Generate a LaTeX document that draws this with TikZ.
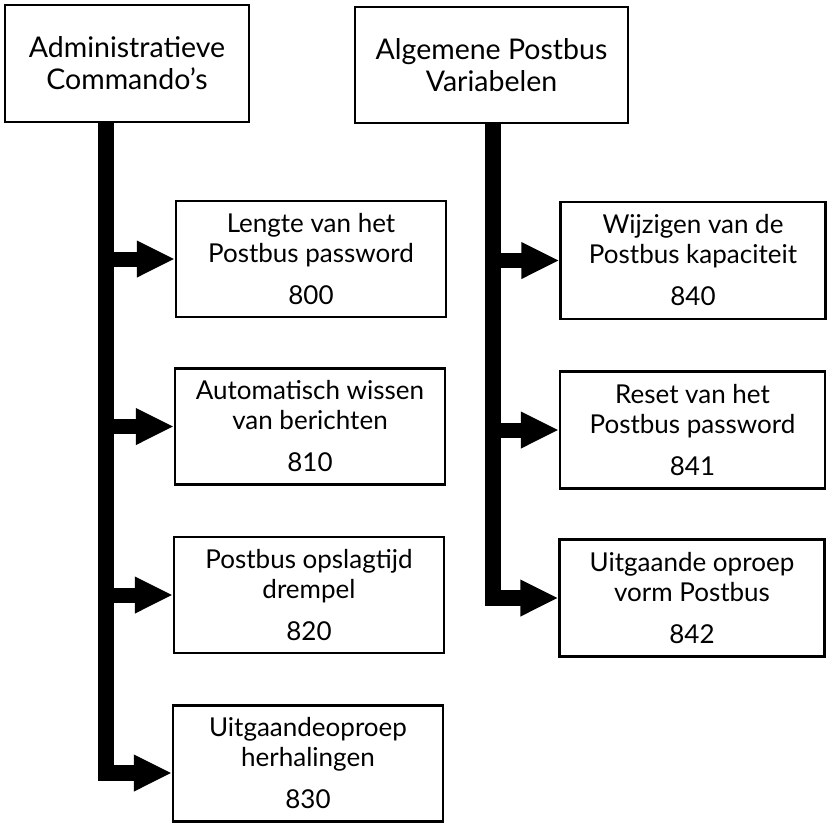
\documentclass[tikz,border=0pt]{standalone}
\usepackage{fontspec}
\setmainfont{Lato}
\usetikzlibrary{arrows.meta,calc}
\begin{document}
\begin{tikzpicture}[x=1pt,y=-1pt,
  box/.style={draw, line width=2.2pt, align=center, inner sep=0pt,
    font=\fontsize{26}{30}\selectfont},
  hbox/.style={box, font=\fontsize{28.5}{32}\selectfont},
  lbox/.style={box, minimum width=270pt, minimum height=116pt},
  rbox/.style={box, minimum width=265pt, minimum height=117pt},
  arrowtip/.style={-{Triangle[length=38pt,width=34pt]}},
  trunk/.style={line width=16pt, line join=miter, line cap=butt, arrowtip},
  branch/.style={line width=15pt, line cap=butt, arrowtip}]
\useasboundingbox (0,0) rectangle (827,823);
\fill[white] (0,0) rectangle (827,823);
% header boxes
\node[hbox, minimum width=244pt, minimum height=117pt] (A) at (127,63.5) {Administratieve\\Commando’s};
\node[hbox, minimum width=273pt, minimum height=116pt] (B) at (491.5,65) {Algemene Postbus\\Variabelen};
% left column
\node[lbox] (b800) at (311,259) {Lengte van het\\Postbus password\\[12pt]800};
\node[lbox] (b810) at (310,426.5) {Automatisch wissen\\van berichten\\[12pt]810};
\node[lbox] (b820) at (309,595) {Postbus opslagtijd\\drempel\\[12pt]820};
\node[lbox] (b830) at (308,763.5) {Uitgaandeoproep\\herhalingen\\[12pt]830};
% right column
\node[rbox] (b840) at (693,260.5) {Wijzigen van de\\Postbus kapaciteit\\[12pt]840};
\node[rbox] (b841) at (692.5,430) {Reset van het\\Postbus password\\[12pt]841};
\node[rbox] (b842) at (692,598) {Uitgaande oproep\\vorm Postbus\\[12pt]842};
% connectors
\coordinate (tA) at (106,122);
\coordinate (tB) at (493,123);
\coordinate (e830) at ($(b830.west)+(0,9.5)$);
\draw[trunk] (tA) |- (e830);
\draw[branch] (tA |- b800.west) -- (b800.west);
\draw[branch] (tA |- b810.west) -- (b810.west);
\draw[branch] (tA |- b820.west) -- (b820.west);
\draw[trunk] (tB) |- (b842.west);
\draw[branch] (tB |- b840.west) -- (b840.west);
\draw[branch] (tB |- b841.west) -- (b841.west);
\end{tikzpicture}
\end{document}
